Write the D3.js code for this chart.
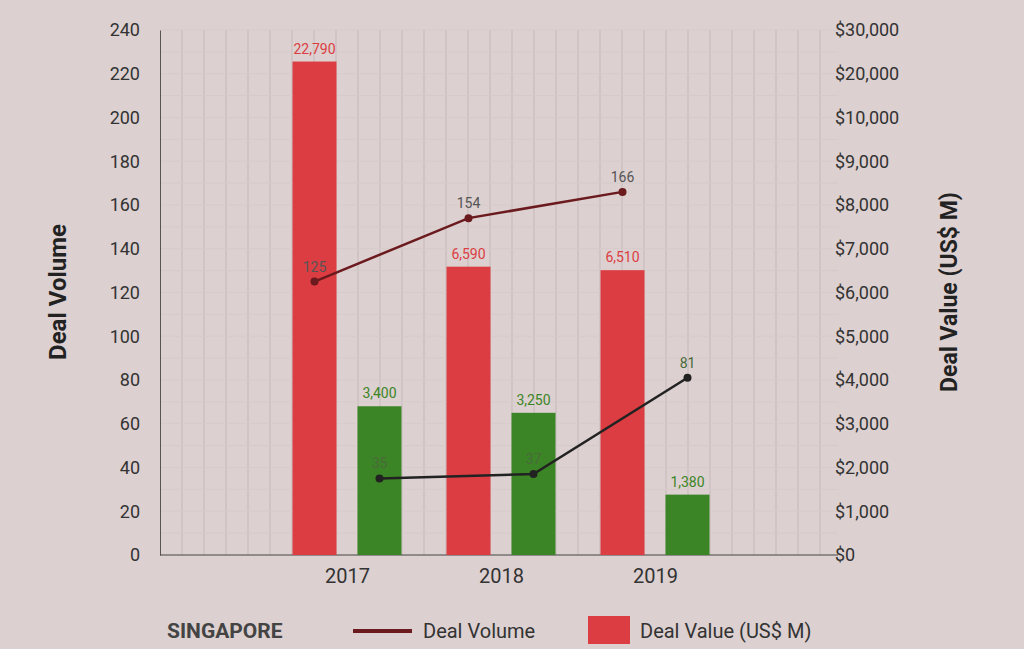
<!DOCTYPE html>
<html><head><meta charset="utf-8">
<script src="https://cdn.jsdelivr.net/npm/d3@7"></script>
<style>body{margin:0;background:#dcd0d0;font-family:Roboto,sans-serif;}</style>
</head><body>
<script>
// data
var years = ['2017', '2018', '2019'],
    redValues = [22790, 6590, 6510],
    greenValues = [3400, 3250, 1380],
    redVolume = [125, 154, 166],
    greenVolume = [35, 37, 81],
    leftTicks = d3.range(0, 241, 20),
    rightTicks = [0, 1000, 2000, 3000, 4000, 5000, 6000, 7000, 8000, 9000, 10000, 20000, 30000];

var W = 1024, H = 649,
    x0 = 160, x1 = 838, yTop = 30, yBot = 555;

var svg = d3.select('body').append('svg').attr('width', W).attr('height', H);
svg.append('rect').attr('width', W).attr('height', H).attr('fill', '#dcd0d0');

var y = d3.scaleLinear().domain([0, 240]).range([yBot, yTop]);
// right axis is not linear in the source chart
var yv = d3.scaleLinear().domain([0, 10000, 20000, 30000]).range([yBot, y(200), y(220), y(240)]);
var x = d3.scalePoint().domain(years).range([347, 655]);
var off = 32.5, bw = 44;

// grid
svg.append('g').selectAll('line').data(d3.range(x0 + 22, x1, 22)).enter().append('line')
    .attr('x1', d => d).attr('x2', d => d).attr('y1', yTop).attr('y2', yBot)
    .attr('stroke', '#cdc1c1').attr('stroke-width', 1.5);
svg.append('g').selectAll('line').data(d3.range(10, 241, 10)).enter().append('line')
    .attr('x1', x0).attr('x2', x1).attr('y1', d => y(d)).attr('y2', d => y(d))
    .attr('stroke', '#d6caca').attr('stroke-width', 1);

// axes
var la = svg.append('g').attr('transform', 'translate(' + x0 + ',0)')
    .call(d3.axisLeft(y).tickValues(leftTicks).tickSize(0).tickPadding(20));
var ra = svg.append('g').attr('transform', 'translate(' + x1 + ',0)')
    .call(d3.axisRight(yv).tickValues(rightTicks).tickSize(0).tickPadding(0)
        .tickFormat(d => '$' + d3.format(',')(d)));
var ba = svg.append('g').attr('transform', 'translate(0,' + yBot + ')')
    .call(d3.axisBottom(x).tickSize(0).tickPadding(14));
[la, ra, ba].forEach(function(a) {
    a.selectAll('text').attr('font-size', 18).attr('fill', '#333').attr('font-family', 'Roboto');
});
ba.selectAll('text').attr('font-size', 20);
ra.selectAll('text').attr('x', -3);
ba.select('.domain').attr('d', 'M' + x0 + ',0H' + x1).attr('stroke', '#444');
la.select('.domain').attr('stroke', '#555');
ra.select('.domain').remove();

// bars
function bars(vals, dx, color) {
    svg.append('g').selectAll('rect').data(vals).enter().append('rect')
        .attr('x', (d, i) => x(years[i]) + dx - bw / 2).attr('width', bw)
        .attr('y', d => yv(d)).attr('height', d => yBot - yv(d)).attr('fill', color);
    svg.append('g').selectAll('text').data(vals).enter().append('text')
        .attr('x', (d, i) => x(years[i]) + dx).attr('y', d => yv(d) - 8)
        .attr('text-anchor', 'middle').attr('font-size', 14).attr('fill', color)
        .text(d => d3.format(',')(d));
}
bars(redValues, -off, '#dc3d42');
bars(greenValues, off, '#3b8526');

// lines
function line(vals, dx, color, labelColor) {
    var pts = vals.map((d, i) => [x(years[i]) + dx, y(d)]);
    svg.append('path').attr('d', d3.line()(pts)).attr('fill', 'none')
        .attr('stroke', color).attr('stroke-width', 2.5);
    svg.append('g').selectAll('circle').data(pts).enter().append('circle')
        .attr('cx', d => d[0]).attr('cy', d => d[1]).attr('r', 4).attr('fill', color);
    svg.append('g').selectAll('text').data(vals).enter().append('text')
        .attr('x', (d, i) => pts[i][0]).attr('y', (d, i) => pts[i][1] - 10)
        .attr('text-anchor', 'middle').attr('font-size', 14).attr('fill', labelColor)
        .text(d => d);
}
line(redVolume, -off, '#6b1a1e', '#555');
line(greenVolume, off, '#222', '#4a6a3a');

// axis titles
svg.append('text').attr('transform', 'translate(66,292) rotate(-90)').attr('text-anchor', 'middle')
    .attr('font-size', 24).attr('font-weight', 'bold').attr('fill', '#222').text('Deal Volume');
svg.append('text').attr('transform', 'translate(957,292) rotate(-90)').attr('text-anchor', 'middle')
    .attr('font-size', 23).attr('font-weight', 'bold').attr('fill', '#222').text('Deal Value (US$ M)');

// legend
svg.append('text').attr('x', 167).attr('y', 638).attr('font-size', 21).attr('font-weight', 'bold')
    .attr('fill', '#444').text('SINGAPORE');
svg.append('line').attr('x1', 353).attr('x2', 412).attr('y1', 631).attr('y2', 631)
    .attr('stroke', '#6b1a1e').attr('stroke-width', 4);
svg.append('text').attr('x', 423).attr('y', 638).attr('font-size', 20).attr('fill', '#333').text('Deal Volume');
svg.append('rect').attr('x', 588).attr('y', 616).attr('width', 42).attr('height', 28).attr('fill', '#dc3d42');
svg.append('text').attr('x', 640).attr('y', 638).attr('font-size', 20).attr('fill', '#333').text('Deal Value (US$ M)');
</script>
</body></html>
